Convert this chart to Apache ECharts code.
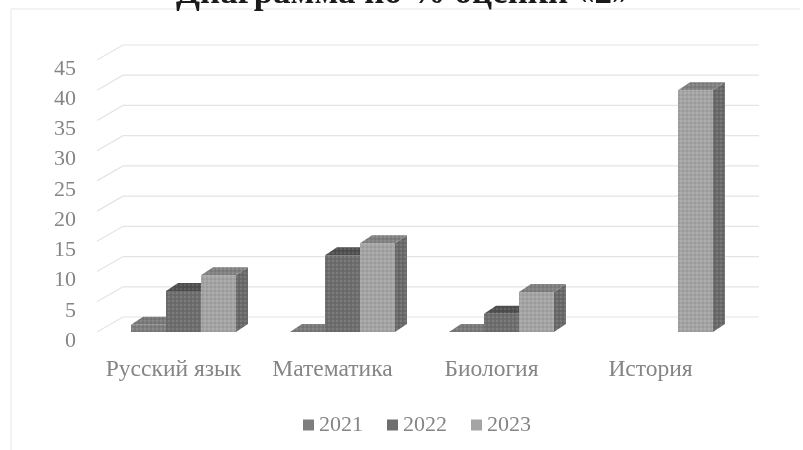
<!DOCTYPE html>
<html><head><meta charset="utf-8">
<style>html,body{margin:0;padding:0;background:#fff}#c{width:803px;height:450px}</style>
<script src="https://cdn.jsdelivr.net/npm/echarts@6/dist/echarts.min.js"></script>
</head><body><div id="c"></div>
<script>
const categories = ['Русский язык','Математика','Биология','История'];
const years = ['2021','2022','2023'];
const values2021 = [1.2, 0, 0, null];
const values2022 = [6.8, 12.7, 3, null];
const values2023 = [9.4, 14.7, 6.6, 40];
const yTicks = [0,5,10,15,20,25,30,35,40,45];
const titleText = 'Диаграмма по % оценки «2»';

const serif = '"Liberation Serif", serif';
const txt = '#858585';
const palette = [
  {front:'#7e7e7e', top:'#7a7a7a', side:'#5c5c5c'},
  {front:'#6e6e6e', top:'#505050', side:'#505050'},
  {front:'#a4a4a4', top:'#808080', side:'#6a6a6a'}
];
const depthX = 12, depthY = 8;
const wallX = 26, wallY = 15;

function halftone(color){
  const cv = document.createElement('canvas');
  cv.width = 4; cv.height = 4;
  const g = cv.getContext('2d');
  g.fillStyle = color; g.fillRect(0,0,4,4);
  g.fillStyle = 'rgba(255,255,255,0.10)'; g.fillRect(0,0,2,2);
  g.fillStyle = 'rgba(0,0,0,0.06)'; g.fillRect(2,2,2,2);
  return {image:cv, repeat:'repeat'};
}
const fills = palette.map(c=>({front:halftone(c.front), top:halftone(c.top), side:halftone(c.side)}));

function barRenderer(idx){
  return function(params, api){
    const v = api.value(1);
    if (v === null || v === undefined || isNaN(v)) return;
    const band = api.size([1,0])[0];
    const w = band * 0.22;
    const center = api.coord([api.value(0), 0]);
    const x0 = center[0] - band/2 + band*0.214 + idx*w;
    const y0 = center[1];
    const yt = api.coord([api.value(0), v])[1];
    const x1 = x0 + w;
    const c = fills[idx];
    return {type:'group', children:[
      {type:'polygon', shape:{points:[[x1,y0],[x1+depthX,y0-depthY],[x1+depthX,yt-depthY],[x1,yt]]}, style:{fill:c.side}},
      {type:'polygon', shape:{points:[[x0,yt],[x0+depthX,yt-depthY],[x1+depthX,yt-depthY],[x1,yt]]}, style:{fill:c.top}},
      {type:'rect', shape:{x:x0,y:yt,width:w,height:y0-yt}, style:{fill:c.front}}
    ]};
  };
}
function wallRenderer(params, api){
  const v = api.value(0);
  const p = api.coord([0, v]);
  const band = api.size([1,0])[0];
  const xl = p[0] - band/2;
  const xr = xl + band*4;
  return {type:'polyline', shape:{points:[[xl,p[1]],[xl+wallX,p[1]-wallY],[xr+wallX,p[1]-wallY]]},
    style:{stroke:'#e4e4e4', lineWidth:1.2, fill:null}};
}
function barSeries(name, arr, idx){
  return {name, type:'custom', coordinateSystem:'cartesian2d', z:3+idx,
    data:arr.map((v,i)=>[i,v]), encode:{x:0,y:1}, renderItem:barRenderer(idx),
    itemStyle:{color:palette[idx].front}, silent:true};
}
const chart = echarts.init(document.getElementById('c'), null, {renderer:'canvas'});
chart.setOption({
  animation:false,
  backgroundColor:'#fff',
  title:{text:titleText, left:171, top:-29, textStyle:{fontFamily:serif, fontWeight:'bold', fontSize:35, color:'#1a1a1a'}},
  grid:{left:97, top:60, width:636, height:272},
  xAxis:{type:'category', data:categories, axisLine:{show:false}, axisTick:{show:false}, splitLine:{show:false},
    axisLabel:{interval:0, hideOverlap:false, fontFamily:serif, fontSize:23.5, color:txt, margin:26, padding:[0,6,0,0]}},
  yAxis:{type:'value', min:0, max:45, interval:5, splitLine:{show:false}, axisLine:{show:false}, axisTick:{show:false},
    axisLabel:{fontFamily:serif, fontSize:22, color:txt, margin:21, verticalAlign:'top', lineHeight:18}},
  legend:{data:years, left:298, top:409, itemWidth:11, itemHeight:11, itemGap:24, icon:'rect',
    textStyle:{fontFamily:serif, fontSize:22, color:txt}},
  graphic:[
    {type:'line', shape:{x1:11,y1:9,x2:11,y2:450}, style:{stroke:'#efefef', lineWidth:1.5}, silent:true},
    {type:'line', shape:{x1:11,y1:9,x2:800,y2:9}, style:{stroke:'#efefef', lineWidth:1.5}, silent:true}
  ],
  series:[
    {type:'custom', name:'walls', coordinateSystem:'cartesian2d', z:1, silent:true,
      data:yTicks.map(t=>[t]), encode:{y:0}, renderItem:wallRenderer},
    barSeries(years[0], values2021, 0),
    barSeries(years[1], values2022, 1),
    barSeries(years[2], values2023, 2)
  ]
});
</script></body></html>
